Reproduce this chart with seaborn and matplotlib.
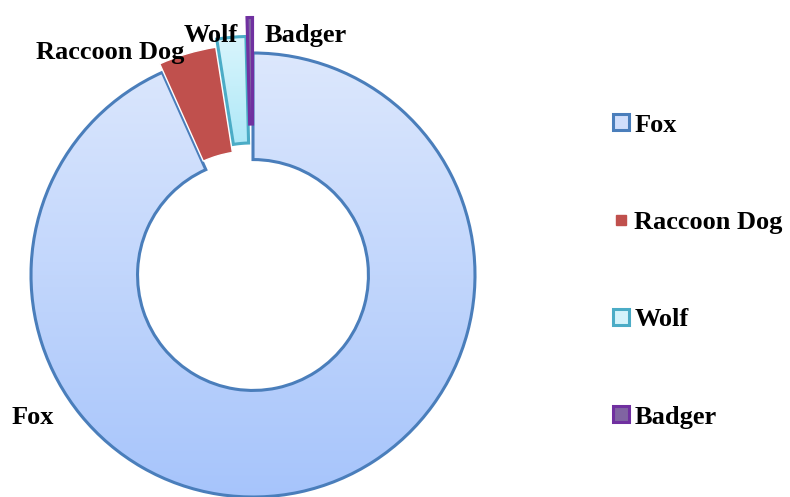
import numpy as np
import matplotlib.pyplot as plt
import seaborn as sns
from matplotlib.lines import Line2D

sns.set_style("white")
plt.rcParams['font.family'] = ['Liberation Serif', 'DejaVu Serif']
plt.rcParams['text.color'] = 'black'

# data
animals = ["Fox", "Raccoon Dog", "Wolf", "Badger"]
shares = [93.3, 4.2, 2.1, 0.4]
explode = [0.0, 0.04, 0.075, 0.16]

face_cols = ["#c3d6fb", "#c0504d", "#c9eff9", "#8064a2"]
edge_cols = ["#4a7ebb", "#ffffff", "#4bacc6", "#7030a0"]

fig = plt.figure(figsize=(7.9, 4.97), dpi=100)
ax = fig.add_axes([0, 0, 1, 1])

# centre of the ring at px (253, 275), radius 222 px
R = 222.0
xlim = (-253 / R, (790 - 253) / R)
ylim = (-(497 - 275) / R, 275 / R)

wedges, _ = ax.pie(shares, colors=face_cols, explode=explode, startangle=90,
                   counterclock=False, radius=1.0,
                   wedgeprops=dict(width=0.48, linewidth=2.2),
                   frame=False)

for w, ec in zip(wedges, edge_cols):
    w.set_edgecolor(ec)
wedges[1].set_linewidth(1.0)

# vertical gradients for Fox and Wolf
def add_gradient(wedge, top, bottom, ybot, ytop):
    c_top = np.array(plt.matplotlib.colors.to_rgb(top))
    c_bot = np.array(plt.matplotlib.colors.to_rgb(bottom))
    t = np.linspace(0, 1, 256)[:, None]
    img = (c_bot * (1 - t) + c_top * t)[:, None, :]
    im = ax.imshow(img, extent=[-1.3, 1.3, ybot, ytop], origin="lower",
                   aspect="auto", zorder=wedge.get_zorder() - 0.1,
                   interpolation="bilinear")
    im.set_clip_path(wedge)
    wedge.set_facecolor("none")

add_gradient(wedges[0], "#dde8fd", "#a6c4fb", -1.02, 1.02)
add_gradient(wedges[2], "#e4f8fd", "#a6e6f7", 0.5, 1.2)

ax.set_xlim(*xlim)
ax.set_ylim(*ylim)
ax.set_aspect("equal")
ax.axis("off")

# data labels
lab_font = dict(fontsize=19, fontweight="bold", color="black")
ax.text(-1.086, -0.644, "Fox", ha="left", va="center", **lab_font)
ax.text(-0.644, 1.0, "Raccoon Dog", ha="center", va="center", **lab_font)
ax.text(-0.189, 1.081, "Wolf", ha="center", va="center", **lab_font)
ax.text(0.239, 1.081, "Badger", ha="center", va="center", **lab_font)

# legend
handles = [
    Line2D([], [], ls="none", marker="s", markersize=11, markerfacecolor="#d0defb",
           markeredgecolor="#4a7ebb", markeredgewidth=2.2),
    Line2D([], [], ls="none", marker="s", markersize=7, markerfacecolor="#c0504d",
           markeredgecolor="#c0504d"),
    Line2D([], [], ls="none", marker="s", markersize=11, markerfacecolor="#d4f3fb",
           markeredgecolor="#4bacc6", markeredgewidth=2.2),
    Line2D([], [], ls="none", marker="s", markersize=11, markerfacecolor="#8064a2",
           markeredgecolor="#7030a0", markeredgewidth=2.2),
]
fig.legend(handles, animals, loc="center left", bbox_to_anchor=(0.756, 0.455),
           frameon=False, prop=dict(size=19, weight="bold"),
           labelspacing=2.8, handlelength=0.8, handletextpad=0.1, borderpad=0)

fig.savefig("out.png", dpi=100)
